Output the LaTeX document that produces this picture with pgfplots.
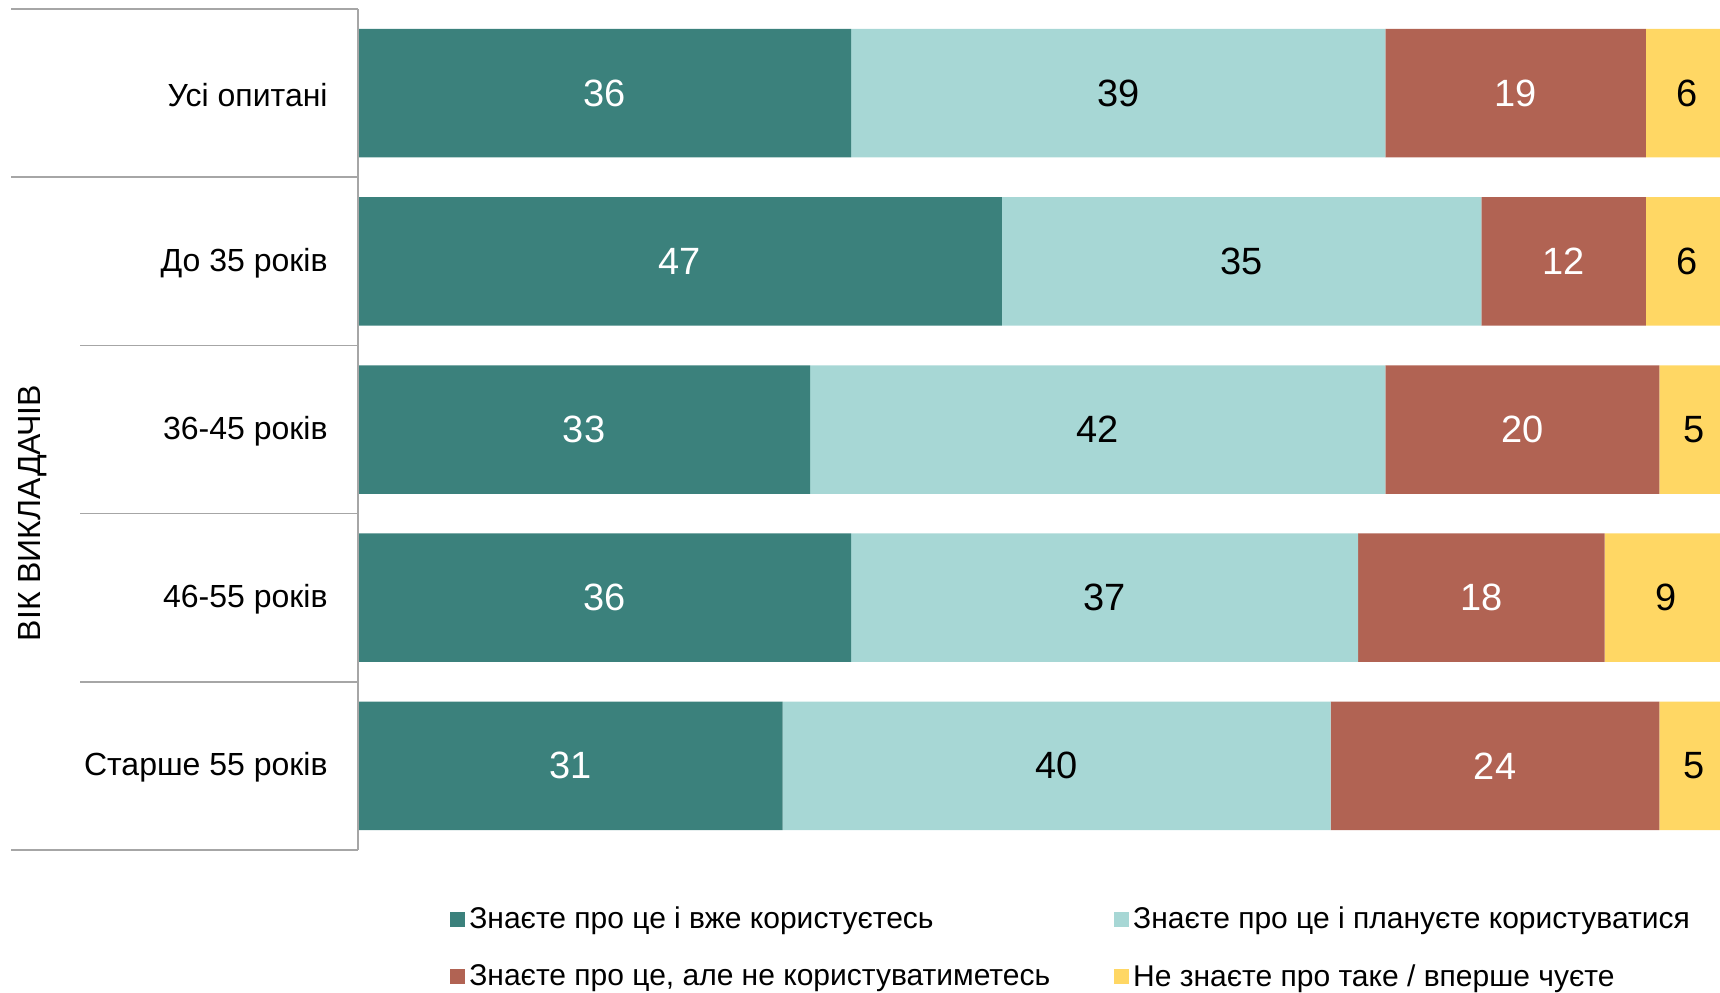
\documentclass[border=0pt]{standalone}
\usepackage{pgfplots}
\pgfplotsset{compat=1.18}
\usepackage{fontspec}
\setmainfont{Liberation Sans}
\definecolor{cTeal}{HTML}{3B817C}
\definecolor{cLight}{HTML}{A7D7D5}
\definecolor{cRed}{HTML}{B16353}
\definecolor{cYellow}{HTML}{FFD764}
\definecolor{cLine}{HTML}{A6A6A6}
\pgfplotsset{
  geom/.style={
    at={(179pt,71pt)}, anchor=south west,
    scale only axis, width=681pt, height=420.5pt,
    xmin=0, xmax=99.42, ymin=-0.5, ymax=4.5,
    y dir=reverse,
  }
}
\begin{document}
\begin{tikzpicture}
\useasboundingbox (0,0) rectangle (860pt,496pt);
\begin{axis}[
  geom,
  xbar stacked, bar width=64.25pt,
  axis line style={draw=none},
  ytick={0,1,2,3,4},
  yticklabels={Усі опитані, До 35 років, 36-45 років, 46-55 років, Старше 55 років},
  yticklabel style={font=\fontsize{16}{19}\selectfont, inner sep=0pt, xshift=-15pt, yshift=-0.8pt},
  xtick=\empty,
  major tick length=0pt,
  legend columns=2,
  legend cell align=left,
  legend image code/.code={\fill[#1] (0pt,-3.75pt) rectangle (7.5pt,3.75pt);},
  legend style={draw=none, fill=none, font=\fontsize{15}{18}\selectfont,
    at={(0.0675,-0.0625)}, anchor=north west, inner sep=0pt,
    nodes={inner sep=2pt},
    /tikz/every even column/.append style={column sep=30pt}, row sep=12.3pt},
  clip=true,
]
\addplot[fill=cTeal, draw=none] coordinates {(36,0) (47,1) (33,2) (36,3) (31,4)};
\addlegendentry{Знаєте про це і вже користуєтесь}
\addplot[fill=cLight, draw=none] coordinates {(39,0) (35,1) (42,2) (37,3) (40,4)};
\addlegendentry{Знаєте про це і плануєте користуватися}
\addplot[fill=cRed, draw=none] coordinates {(19,0) (12,1) (20,2) (18,3) (24,4)};
\addlegendentry{Знаєте про це, але не користуватиметесь}
\addplot[fill=cYellow, draw=none] coordinates {(6,0) (6,1) (5,2) (9,3) (5,4)};
\addlegendentry{Не знаєте про таке / вперше чуєте}
\end{axis}
\begin{axis}[
  geom, hide axis, clip=false,
  nodes near coords, point meta=explicit symbolic,
  every node near coord/.append style={anchor=center, font=\fontsize{19}{22}\selectfont},
]
\addplot[draw=none, mark=none, nodes near coords style={text=white}] table[meta=label] {
x y label
18 0 36
23.5 1 47
16.5 2 33
18 3 36
15.5 4 31
};
\addplot[draw=none, mark=none, nodes near coords style={text=black}] table[meta=label] {
x y label
55.5 0 39
64.5 1 35
54 2 42
54.5 3 37
51 4 40
};
\addplot[draw=none, mark=none, nodes near coords style={text=white}] table[meta=label] {
x y label
84.5 0 19
88 1 12
85 2 20
82 3 18
83 4 24
};
\addplot[draw=none, mark=none, nodes near coords style={text=black}] table[meta=label] {
x y label
97 0 6
97 1 6
97.5 2 5
95.5 3 9
97.5 4 5
};
\end{axis}
\draw[cLine, line width=0.75pt] (179pt,71pt) -- (179pt,491.5pt);
\draw[cLine, line width=0.75pt] (5.5pt,491.5pt) -- (179pt,491.5pt);
\draw[cLine, line width=0.75pt] (5.5pt,407.4pt) -- (179pt,407.4pt);
\draw[cLine, line width=0.75pt] (40pt,323.3pt) -- (179pt,323.3pt);
\draw[cLine, line width=0.75pt] (40pt,239.2pt) -- (179pt,239.2pt);
\draw[cLine, line width=0.75pt] (40pt,155.1pt) -- (179pt,155.1pt);
\draw[cLine, line width=0.75pt] (5.5pt,71pt) -- (179pt,71pt);
\node[rotate=90, font=\fontsize{16}{19}\selectfont] at (16.5pt,239.5pt) {ВІК ВИКЛАДАЧІВ};
\end{tikzpicture}
\end{document}
